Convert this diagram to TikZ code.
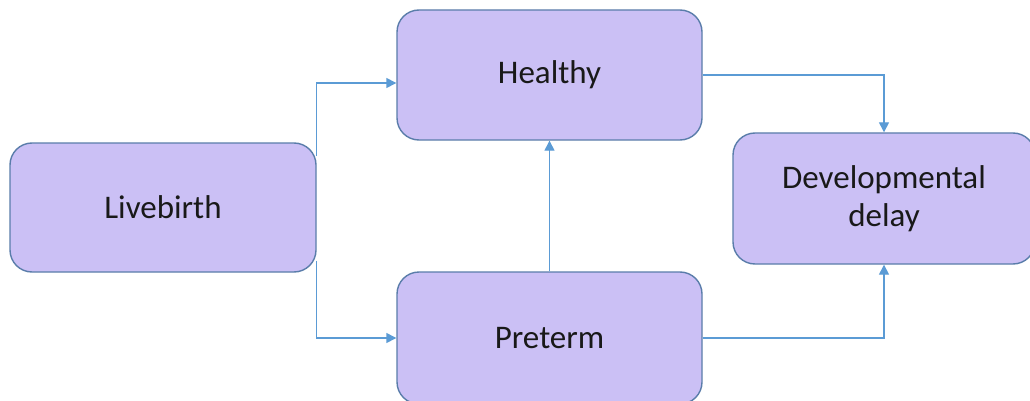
\documentclass[tikz,border=0pt]{standalone}
\usepackage{fontspec}
\setmainfont{Carlito}
\usetikzlibrary{arrows.meta}
\definecolor{boxfill}{HTML}{CBC0F5}
\definecolor{boxline}{HTML}{5A7DAA}
\definecolor{linkcol}{HTML}{5B9BD5}
\begin{document}
\begin{tikzpicture}[x=1pt,y=-1pt,
  stage/.style={draw=boxline, fill=boxfill, line width=1.4pt, rounded corners=22pt,
    inner sep=0pt, align=center, text=black!90,
    font=\fontsize{33}{38}\selectfont},
  link/.style={draw=linkcol, line width=1.4pt,
    -{Triangle[length=10pt,width=10pt]}}]
  \clip (0,0) rectangle (1030,401);
  \useasboundingbox (0,0) rectangle (1030,401);
  \fill[white] (0,0) rectangle (1030,401);

  % stages
  \node[stage, minimum width=306pt, minimum height=129pt] (live) at (163,207.5) {Livebirth};
  \node[stage, minimum width=305pt, minimum height=130pt] (healthy) at (549.5,75) {Healthy};
  \node[stage, minimum width=305pt, minimum height=132pt] (preterm) at (549.5,338) {Preterm};
  \node[stage, minimum width=302pt, minimum height=131pt] (dev) at (884,198.5) {Developmental\\delay};

  % transitions
  \draw[link] ([yshift=-14pt]live.north east) |- ([yshift=-8pt]healthy.west);
  \draw[link] ([yshift=12pt]live.south east) |- (preterm.west);
  \draw[link] (healthy.east) -| (dev.north);
  \draw[link] (preterm.east) -| (dev.south);
  \draw[link] (preterm.north) -- (healthy.south);
\end{tikzpicture}
\end{document}
